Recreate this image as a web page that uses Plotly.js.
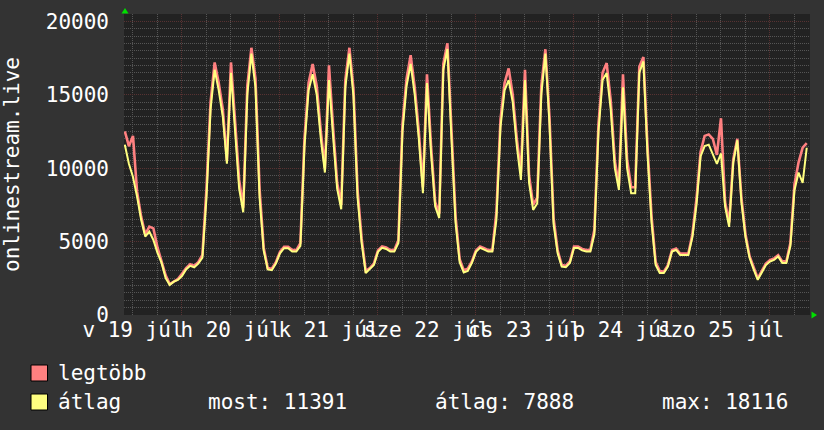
<!DOCTYPE html>
<html>
<head>
<meta charset="utf-8">
<script src="https://cdn.plot.ly/plotly-3.0.1.min.js"></script>
<style>html,body{margin:0;padding:0;background:#333333;}#chart{width:824px;height:430px;}</style>
</head>
<body>
<div id="chart"></div>
<script>
// time grid: hours since 2020-07-19 00:00, one value per hour
var startHour = 10;
var stepHours = 1;

// átlag (average) series
var atlag = [
11600,10300,9400,8070,6480,5340,5680,5110,4230,3550,2520,2050,2270,2390,
2650,3100,3350,3250,3500,3900,8000,14000,16700,15300,13500,10300,16500,12200,8600,7000,15000,17800,15500,8000,4400,3100,3050,3500,
4200,4550,4550,4320,4320,4700,11500,15300,16400,15000,12000,9700,16000,12200,8600,7200,15500,17800,14900,8000,4900,2860,3100,3400,
4300,4570,4500,4320,4320,4900,12500,15600,17100,15000,12000,8300,15800,11000,7400,6600,16700,18116,12000,6300,3600,2900,3000,3550,
4300,4570,4450,4320,4320,6500,12800,15300,16000,14500,11500,9200,16000,9000,7160,7600,15000,17800,13000,6200,4200,3300,3250,3550,
4570,4570,4400,4320,4320,5500,12500,16000,16480,14000,10000,8520,15500,10000,8300,8300,16500,17270,11000,6300,3400,2860,2860,3300,
4320,4430,4090,4090,4090,5300,7500,10800,11500,11600,10900,10300,11000,7400,6000,10360,11900,7700,5300,3900,3100,2400,2900,3400,
3640,3750,3980,3550,3550,4700,8500,9700,9000,11391
];

// legtöbb (maximum) series
var legtobb = [
12500,11500,12200,8400,6700,5500,6020,5900,4600,3700,2700,2100,2300,2450,
2800,3200,3450,3350,3600,4100,8600,14500,17200,15800,14000,10500,17200,12800,9200,7300,15600,18200,16100,8600,4600,3200,3150,3600,
4300,4650,4650,4420,4420,4900,12000,15800,17100,15600,12500,10000,17000,12800,9000,7500,16000,18200,15400,8500,5200,3000,3200,3500,
4400,4670,4600,4420,4420,5100,13000,16100,17700,15500,12500,8700,16400,11500,7700,6900,17100,18500,12500,6700,3800,3050,3150,3650,
4400,4670,4550,4420,4420,7000,13300,15800,16800,15000,12000,9700,16700,9500,7500,8000,15600,18100,13500,6600,4400,3400,3350,3650,
4670,4670,4500,4420,4420,5800,13000,16500,17160,14600,10500,8800,16400,10600,8700,8700,16900,17570,11500,6700,3600,3000,2950,3400,
4420,4530,4190,4190,4190,5500,7900,11100,12200,12300,12000,10900,13400,7700,6300,10600,12000,8000,5500,4000,3200,2500,3000,3500,
3740,3850,4080,3650,3650,4900,8900,10400,11400,11700
];

// day labels, placed at noon of each day (hours since 2020-07-19 00:00)
var dayLabelHours = [12, 36, 60, 84, 108, 132, 156];
var dayLabels = ["v 19 júl", "h 20 júl", "k 21 júl", "sze 22 júl", "cs 23 júl", "p 24 júl", "szo 25 júl"];

// y axis ticks
var yTickVals = [0, 5000, 10000, 15000, 20000];
var yTickText = ["0", "5000", "10000", "15000", "20000"];

var seriesNames = ["legtöbb", "átlag"];
var seriesColors = ["#ff8080", "#ffff80"];
var statsText = ["most: 11391", "átlag: 7888", "max: 18116"];
var yTitle = "onlinestream.live";

var hours = atlag.map(function (_, i) { return startHour + i * stepHours; });

var FONT = "DejaVu Sans Mono";
var W = 824, H = 430;
var mL = 124, mR = 14, mT = 14, mB = 115;
var pw = W - mL - mR, ph = H - mT - mB;
function px(x) { return (x - mL) / pw; }
function py(y) { return (H - mB - y) / ph; }

var traces = [
  { x: hours, y: legtobb, type: "scatter", mode: "lines", name: seriesNames[0],
    line: { color: seriesColors[0], width: 2.6 }, hoverinfo: "skip", showlegend: false },
  { x: hours, y: atlag, type: "scatter", mode: "lines", name: seriesNames[1],
    line: { color: seriesColors[1], width: 2 }, hoverinfo: "skip", showlegend: false },
  { x: [dayLabelHours[0]], y: [null], xaxis: "x2", type: "scatter", mode: "lines",
    showlegend: false, hoverinfo: "skip" }
];

var majorGrid = "#583232";
var minorGrid = "#555555";

var shapes = [
  // green arrows at axis ends
  { type: "path", xref: "paper", yref: "paper",
    path: "M " + px(121.5) + " " + py(13.5) + " L " + px(128.5) + " " + py(13.5) + " L " + px(125) + " " + py(8) + " Z",
    fillcolor: "#00e000", line: { width: 0 } },
  { type: "path", xref: "paper", yref: "paper",
    path: "M " + px(811.5) + " " + py(311.5) + " L " + px(811.5) + " " + py(318.5) + " L " + px(817) + " " + py(315) + " Z",
    fillcolor: "#00e000", line: { width: 0 } },
  // legend boxes
  { type: "rect", xref: "paper", yref: "paper", x0: px(31), x1: px(47.5), y0: py(365), y1: py(381),
    fillcolor: seriesColors[0], line: { color: "#000000", width: 1 } },
  { type: "rect", xref: "paper", yref: "paper", x0: px(31), x1: px(47.5), y0: py(394), y1: py(410),
    fillcolor: seriesColors[1], line: { color: "#000000", width: 1 } }
];

var annFont = { family: FONT, size: 21, color: "#ffffff" };
var annotations = [
  { xref: "paper", yref: "paper", x: px(56), y: py(373), xanchor: "left", yanchor: "middle",
    text: seriesNames[0], showarrow: false, font: annFont },
  { xref: "paper", yref: "paper", x: px(56), y: py(402), xanchor: "left", yanchor: "middle",
    text: seriesNames[1], showarrow: false, font: annFont },
  { xref: "paper", yref: "paper", x: px(205.5), y: py(402), xanchor: "left", yanchor: "middle",
    text: statsText[0], showarrow: false, font: annFont },
  { xref: "paper", yref: "paper", x: px(433), y: py(402), xanchor: "left", yanchor: "middle",
    text: statsText[1], showarrow: false, font: annFont },
  { xref: "paper", yref: "paper", x: px(660), y: py(402), xanchor: "left", yanchor: "middle",
    text: statsText[2], showarrow: false, font: annFont }
];

var layout = {
  width: W, height: H,
  margin: { l: mL, r: mR, t: mT, b: mB, pad: 0 },
  paper_bgcolor: "#333333",
  plot_bgcolor: "#222222",
  showlegend: false,
  font: { family: FONT, size: 21, color: "#ffffff" },
  xaxis: {
    range: [9.8, 177.8], autorange: false,
    tickmode: "linear", tick0: 0, dtick: 24,
    showticklabels: false, ticks: "",
    showgrid: true, gridcolor: majorGrid, griddash: "1px,1px", gridwidth: 1,
    minor: { tickmode: "linear", tick0: 0, dtick: 6, showgrid: true, gridcolor: minorGrid, griddash: "1px,1px", gridwidth: 1, ticks: "" },
    zeroline: false, showline: false, fixedrange: true
  },
  xaxis2: {
    overlaying: "x", anchor: "y", side: "bottom",
    range: [9.8, 177.8], autorange: false,
    tickmode: "array", tickvals: dayLabelHours, ticktext: dayLabels,
    tickangle: 0,
    ticks: "", showgrid: false, zeroline: false, showline: false,
    tickfont: { family: FONT, size: 21, color: "#ffffff" },
    ticklabelstandoff: 0
  },
  yaxis: {
    range: [0, 20500], autorange: false,
    tickmode: "array", tickvals: yTickVals, ticktext: yTickText,
    ticks: "", ticklabelstandoff: 14,
    tickfont: { family: FONT, size: 21, color: "#ffffff" },
    showgrid: true, gridcolor: majorGrid, griddash: "1px,1px", gridwidth: 1,
    minor: { tickmode: "linear", tick0: 0, dtick: 500, showgrid: true, gridcolor: minorGrid, griddash: "1px,1px", gridwidth: 1, ticks: "" },
    zeroline: false, showline: false, fixedrange: true,
    title: { text: yTitle, standoff: 25, font: { family: FONT, size: 21, color: "#ffffff" } }
  },
  shapes: shapes,
  annotations: annotations
};

Plotly.newPlot("chart", traces, layout, { staticPlot: true, displayModeBar: false });
</script>
</body>
</html>
